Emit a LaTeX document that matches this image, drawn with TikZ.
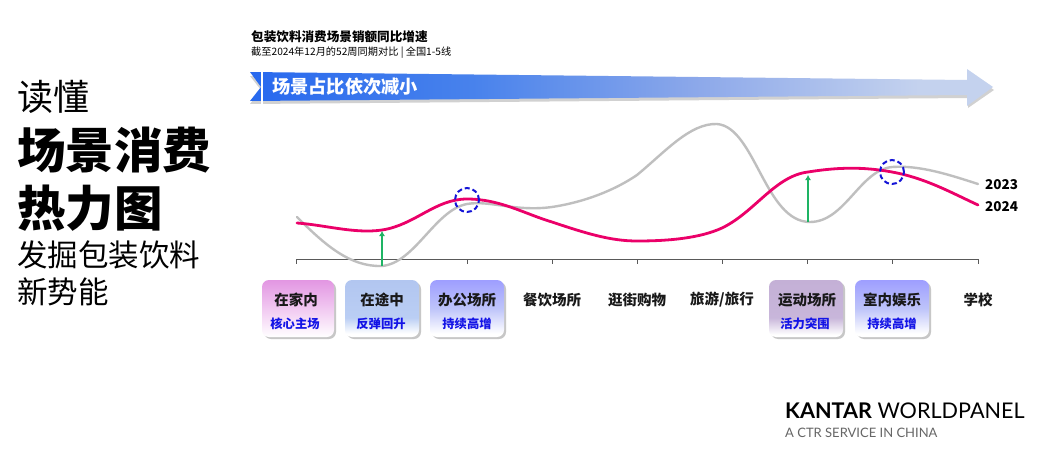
\documentclass[tikz,border=0pt]{standalone}
\usepackage{fontspec}
\setmainfont{Noto Sans CJK SC}
\newfontfamily\latinf{Lato}
\usetikzlibrary{shadows,arrows.meta}
\definecolor{chipblue}{RGB}{20,20,230}
\definecolor{c1a}{RGB}{226,150,226}\definecolor{c1b}{RGB}{238,190,238}
\definecolor{c2a}{RGB}{178,198,240}\definecolor{c2b}{RGB}{186,206,244}
\definecolor{c3a}{RGB}{158,158,255}\definecolor{c3b}{RGB}{190,196,250}
\definecolor{c7a}{RGB}{196,176,214}\definecolor{c7b}{RGB}{200,182,218}
\definecolor{arrA}{RGB}{40,105,238}\definecolor{arrB}{RGB}{72,130,236}
\definecolor{arrC}{RGB}{140,168,234}\definecolor{arrD}{RGB}{196,210,238}
\definecolor{pinkline}{RGB}{235,0,105}
\definecolor{greenup}{RGB}{30,180,100}
\definecolor{circblue}{RGB}{20,20,215}
\pgfdeclarehorizontalshading{arrshade}{100bp}{color(0bp)=(arrA);color(25bp)=(arrA);color(40bp)=(arrB);color(55bp)=(arrC);color(70bp)=(arrD);color(100bp)=(arrD)}
\pgfdeclareverticalshading{chA}{100bp}{color(0bp)=(white);color(25bp)=(white);color(55bp)=(c1b);color(75bp)=(c1a);color(100bp)=(c1a)}
\pgfdeclareverticalshading{chB}{100bp}{color(0bp)=(white);color(28bp)=(white);color(42bp)=(c2b);color(75bp)=(c2a);color(100bp)=(c2a)}
\pgfdeclareverticalshading{chC}{100bp}{color(0bp)=(white);color(28bp)=(white);color(50bp)=(c3b);color(75bp)=(c3a);color(100bp)=(c3a)}
\pgfdeclareverticalshading{chD}{100bp}{color(0bp)=(white);color(27bp)=(white);color(42bp)=(c7b);color(75bp)=(c7a);color(100bp)=(c7a)}
\tikzset{
  x=1pt,y=-1pt,
  chip/.style={rounded corners=7pt,minimum width=74pt,minimum height=57pt,inner sep=0pt,
    drop shadow={shadow xshift=2pt,shadow yshift=-2pt,fill=black!40,opacity=.55}},
  cat/.style={font=\fontsize{14.5}{14.5}\selectfont\bfseries,text=black!90,inner sep=0pt},
  sub/.style={font=\fontsize{12.3}{12.3}\selectfont\bfseries,text=chipblue,inner sep=0pt},
  ttl/.style={anchor=base west,inner sep=0pt},
  tick/.style={draw=black!65,line width=1pt},
  g23/.style={draw=black!25,line width=2.4pt,line cap=round},
  r24/.style={draw=pinkline,line width=2.8pt,line cap=round},
  up/.style={draw=greenup,line width=2.4pt,-{Latex[length=5pt,width=6pt]}},
  ring/.style={circle,draw=circblue,line width=2pt,dash pattern=on 5pt off 3pt,minimum size=24pt,inner sep=0pt}
}
\begin{document}
\begin{tikzpicture}
\useasboundingbox (0,0) rectangle (1047,455);
\fill[white] (0,0) rectangle (1047,455);
% left title
\node[ttl] (t1) at (17,110) {\fontsize{36}{36}\selectfont 读懂};
\node[ttl] (t2) at (17,168) {\fontsize{48.5}{48.5}\selectfont\bfseries 场景消费};
\node[ttl] (t3) at (17,226) {\fontsize{48.5}{48.5}\selectfont\bfseries 热力图};
\node[ttl] (t4) at (17,266) {\fontsize{30.5}{30.5}\selectfont 发掘包装饮料};
\node[ttl] (t5) at (17,303) {\fontsize{30.5}{30.5}\selectfont 新势能};
% heading
\node[ttl] (h1) at (251,41) {\fontsize{12.6}{12.6}\selectfont\bfseries 包装饮料消费场景销额同比增速};
\node[ttl] (h2) at (251,55) {\fontsize{10.2}{10.2}\selectfont 截至2024年12月的52周同期对比 | 全国1-5线};
% arrow
\fill[black,opacity=.18] (250,76) -- (968,83) -- (968,72) -- (994,90) -- (968,108) -- (968,98) -- (250,104) -- (261,90) -- cycle;
\shade[shading=arrshade]
  (250,72) -- (967,80) -- (967,69) -- (993,87) -- (967,106) -- (967,95) -- (250,101) -- (261,87) -- cycle;
\fill[white] (261,71) rectangle (263,105);
\node[anchor=west,inner sep=0pt,text=white] (a) at (272,87) {\fontsize{18.2}{18.2}\selectfont\bfseries 场景占比依次减小};
% chips
\node[chip,shading=chA,minimum width=72pt] (c1) at (298,308.5) {};
\node[chip,shading=chB] (c2) at (382,308.5) {};
\node[chip,shading=chC] (c3) at (467,308.5) {};
\node[chip,shading=chD] (c7) at (806,308.5) {};
\node[chip,shading=chC] (c8) at (892,308.5) {};
\node[cat] (l1) at (296,300) {在家内};
\node[sub] (s1) at (295,324) {核心主场};
\node[cat] (l2) at (382,300) {在途中};
\node[sub] (s2) at (381,324) {反弹回升};
\node[cat] (l3) at (467,300) {办公场所};
\node[sub] (s3) at (467,324) {持续高增};
\node[cat] (l4) at (552,300) {餐饮场所};
\node[cat] (l5) at (637,300) {逛街购物};
\node[cat] (l6) at (722,300) {旅游/旅行};
\node[cat] (l7) at (807,300) {运动场所};
\node[sub] (s7) at (805,324) {活力突围};
\node[cat] (l8) at (892,300) {室内娱乐};
\node[sub] (s8) at (892,324) {持续高增};
\node[cat] (l9) at (978,300) {学校};
% axis
\coordinate (ax0) at (296,259);
\coordinate (ax9) at (978,259);
\draw[tick] (ax0) -- (ax9);
\foreach \x in {296,382,467,552,637,722,807,892,978} \draw[tick] (\x,259) -- (\x,264);
% 2023
\draw[g23] (297,217) .. controls (325,245) and (350,267) .. (382,266)
  .. controls (415,263) and (435,210) .. (467,204)
  .. controls (490,200) and (515,212) .. (552,207)
  .. controls (585,202) and (615,190) .. (637,175)
  .. controls (665,152) and (690,123) .. (717,124)
  .. controls (755,127) and (765,222) .. (810,222)
  .. controls (845,222) and (860,170) .. (892,167)
  .. controls (920,165) and (950,175) .. (978,184);
% 2024
\draw[r24] (297,223) .. controls (325,225) and (355,234) .. (382,230)
  .. controls (415,225) and (435,199) .. (467,199)
  .. controls (500,199) and (525,214) .. (552,222)
  .. controls (585,233) and (610,241) .. (637,241)
  .. controls (670,241) and (700,238) .. (722,228)
  .. controls (755,212) and (775,176) .. (808,172)
  .. controls (845,166) and (870,168) .. (892,172)
  .. controls (925,178) and (950,192) .. (978,205);
% arrows
\coordinate (g1a) at (382,266); \coordinate (g1b) at (382,231);
\coordinate (g2a) at (808,222); \coordinate (g2b) at (808,175);
\draw[up] (g1a) -- (g1b);
\draw[up] (g2a) -- (g2b);
% circles
\node[ring] (o1) at (467,200) {};
\node[ring] (o2) at (892,172) {};
% legends
\node[anchor=west,inner sep=0pt,font=\fontsize{13.5}{13.5}\selectfont\bfseries] (y1) at (985,185) {2023};
\node[anchor=west,inner sep=0pt,font=\fontsize{13.5}{13.5}\selectfont\bfseries] (y2) at (985,207) {2024};
% logo
\node[ttl] (k1) at (785,418) {\latinf\fontsize{21.6}{21.6}\selectfont\textbf{KANTAR} WORLDPANEL};
\node[ttl,text=black!60] (k2) at (785,437) {\latinf\fontsize{13}{13}\selectfont A CTR SERVICE IN CHINA};
\end{tikzpicture}
\end{document}
